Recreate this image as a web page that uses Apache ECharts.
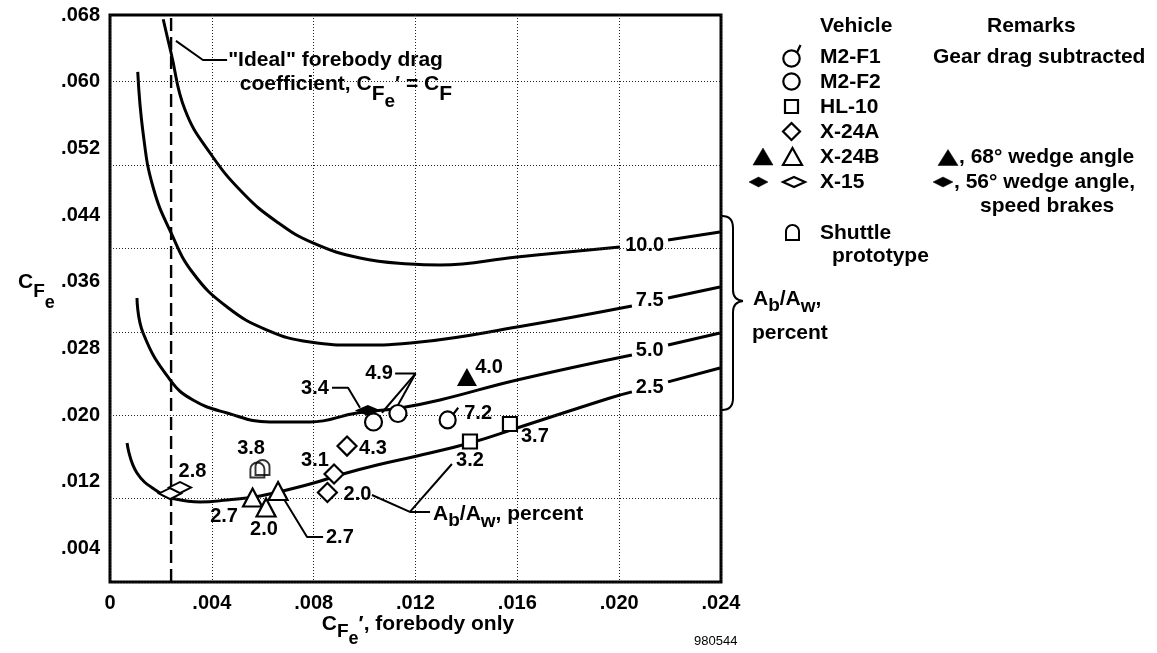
<!DOCTYPE html>
<html><head><meta charset="utf-8">
<script src="https://cdn.jsdelivr.net/npm/echarts@6/dist/echarts.min.js"></script>
<style>html,body{margin:0;padding:0;background:#fff}#c{width:1157px;height:653px}</style>
</head><body><div id="c"></div>
<script>
const FONT = '"Liberation Sans", Arial, Helvetica, "DejaVu Sans", sans-serif';

// ---- axes ----
const xMin = 0, xMax = 0.024, xStep = 0.004;
const yMin = 0, yMax = 0.068, yStep = 0.004;
const yTickLabels = [0.004, 0.012, 0.020, 0.028, 0.036, 0.044, 0.052, 0.060, 0.068];

// ---- Ab/Aw contour curves (null = gap where the curve label sits) ----
const curve10 = [[.00209,.06749],[.0024,.06344],[.00295,.05661],[.00393,.05145],[.00522,.04665],[.00656,.04318],[.00797,.04066],[.00982,.03886],[.01178,.03814],[.01296,.03802],[.01599,.03898],[.02003,.04018],null,[.02192,.04102],[.02396,.04198]];
const curve75 = [[.00109,.06117],[.0013,.05385],[.00169,.04737],[.0024,.04186],[.00326,.03706],[.0046,.03298],[.00617,.03022],[.00786,.02878],[.0097,.02842],[.01218,.02878],[.01599,.03058],[.0205,.0331],null,[.02192,.03406],[.02396,.03538]];
const curve50 = [[.00106,.03406],[.0013,.02986],[.00236,.02423],[.00326,.02183],[.0046,.02027],[.00628,.01919],[.00786,.01919],[.0097,.02027],[.01139,.02087],[.01296,.02183],[.01599,.02423],[.0205,.02723],null,[.02192,.02842],[.02396,.02986]];
const curve25 = [[.00067,.01667],[.00106,.01307],[.00196,.01067],[.0024,.01007],[.00354,.00959],[.0046,.00983],[.0059,.01031],[.00786,.01175],[.00915,.01295],[.01049,.01403],[.01206,.01511],[.01414,.01667],[.01599,.01847],[.01964,.02207],[.0205,.0228],null,[.02192,.0240],[.02396,.02567]];
const curveNames = ['10.0', '7.5', '5.0', '2.5'];
const curveLabelPos = [[.0210,.0404],[.0212,.0338],[.0212,.0278],[.0212,.0233]];
const idealCF = 0.0024;

// ---- flight data ----
const m2f1 = [[.01326,.01943]];
const m2f2 = [[.01035,.01919],[.01131,.02021]];
const hl10 = [[.01414,.01685],[.01571,.01895]];
const x24a = [[.00931,.0163],[.0088,.01295],[.00854,.01073]];
const x24bOpen = [[.0056,.01013],[.00613,.00894],[.0066,.01091]];
const x24bWedge = [[.01402,.02459]];
const x15Open = [[.00236,.01061],[.00275,.01133]];
const x15Brakes = [[.01013,.02057]];
const shuttle = [[.00579,.01343],[.00599,.01373]];

// Ab/Aw percent labels next to points
const pointLabels = [
  [.00324,.0132,'2.8'],[.00554,.0160,'3.8'],[.00448,.00786,'2.7'],[.00605,.0063,'2.0'],
  [.00903,.00534,'2.7'],[.00805,.01463,'3.1'],[.01033,.0160,'4.3'],[.00972,.01049,'2.0'],
  [.00805,.0232,'3.4'],[.01057,.0250,'4.9'],[.01446,.0202,'7.2'],[.01489,.0257,'4.0'],
  [.01414,.01457,'3.2'],[.01669,.01745,'3.7']
];
// leader lines
const leaders = [
  [[.00259,.0649],[.00365,.0626],[.0046,.0626]],
  [[.00872,.0233],[.00935,.0233],[.00982,.0209]],
  [[.0112,.0250],[.0120,.0250],[.01068,.0203]],
  [[.0120,.0250],[.01127,.0210]],
  [[.0068,.0101],[.00774,.0054],[.00837,.0054]],
  [[.01029,.01043],[.01178,.0084],[.01257,.0084]],
  [[.01178,.0084],[.01343,.01415]]
];

const fmt = v => (Math.abs(v) < 1e-9 ? '0' : v.toFixed(3).replace(/^0/, ''));

function splitSegments(arr) {
  const segs = [[]];
  arr.forEach(p => { if (p === null) segs.push([]); else segs[segs.length - 1].push(p); });
  return segs.filter(s => s.length);
}

const series = [];
// dashed ideal line + horizontal grid lines
series.push({
  type: 'line', data: [[idealCF, yMin], [idealCF, yMax]], symbol: 'none', silent: true, z: 2,
  lineStyle: { color: '#000', width: 2.4, type: [13, 6] },
  markLine: {
    silent: true, symbol: 'none', label: { show: false }, animation: false,
    lineStyle: { color: '#222', width: 1, type: [1, 2] },
    data: yTickLabels.filter(v => v < yMax - 1e-9).map(v => ({ yAxis: v }))
  }
});
[curve10, curve75, curve50, curve25].forEach(c => {
  splitSegments(c).forEach(seg => series.push({
    type: 'line', data: seg, smooth: 0.45, symbol: 'none', silent: true, z: 3,
    lineStyle: { color: '#000', width: 3 }
  }));
});
leaders.forEach(l => series.push({
  type: 'line', data: l, symbol: 'none', silent: true, z: 3,
  lineStyle: { color: '#000', width: 2 }
}));

function pts(data, symbol, size, filled, extra) {
  return Object.assign({
    type: 'scatter', data, symbol, symbolSize: size, silent: true, z: 6,
    itemStyle: { color: filled ? '#000' : '#fff', borderColor: '#000', borderWidth: filled ? 0 : 2.2, opacity: 1 }
  }, extra || {});
}
const M2F1_PATH = 'path://M0.5,12.5A8,8,0,1,1,16.5,12.5A8,8,0,1,1,0.5,12.5ZM14.2,6.8L19,1';
const DOME_PATH = 'path://M0,15L0,6.5A6.5,6.5,0,0,1,13,6.5L13,15Z';
series.push(pts(m2f1, M2F1_PATH, [19.6, 20.7], false, { symbolKeepAspect: true, symbolOffset: [1.33, -1.86] }));
series.push(pts(m2f2, 'circle', 17, false));
series.push(pts(hl10, 'rect', 14, false));
series.push(pts(x24a, 'diamond', [19, 19], false));
series.push(pts(x24bOpen, 'triangle', [19, 18], false));
series.push(pts(x24bWedge, 'triangle', [20, 18], true));
series.push(pts(x15Open, 'diamond', [22, 11], false));
series.push(pts(x15Brakes, 'diamond', [26, 11], true));
series.push(pts(shuttle, DOME_PATH, [14, 15], false, { itemStyle: { color: 'rgba(255,255,255,0)', borderColor: '#000', borderWidth: 2 } }));

const labelStyle = {
  show: true, position: [0.5, 0.5], align: 'center', verticalAlign: 'middle',
  color: '#000', opacity: 1, textBorderWidth: 0, textShadowBlur: 0,
  fontSize: 20, fontWeight: 'bold', fontFamily: FONT, formatter: '{b}'
};
series.push({
  type: 'scatter', silent: true, z: 7, symbolSize: 1, itemStyle: { color: 'rgba(0,0,0,0)' },
  data: pointLabels.map(p => ({ value: [p[0], p[1]], name: p[2] })), label: labelStyle
});
series.push({
  type: 'scatter', silent: true, z: 7, symbolSize: 1, itemStyle: { color: 'rgba(0,0,0,0)' },
  data: curveLabelPos.map((p, i) => ({ value: p, name: curveNames[i] })), label: labelStyle
});

const option = {
  animation: false,
  backgroundColor: '#fff',
  grid: { left: 110, top: 15, width: 611, height: 567, show: true, borderColor: '#000', borderWidth: 3, backgroundColor: 'rgba(0,0,0,0)' },
  xAxis: {
    type: 'value', min: xMin, max: xMax, interval: xStep,
    axisLine: { show: false }, axisTick: { show: false },
    axisLabel: { margin: 11, color: '#000', fontSize: 20, fontWeight: 'bold', fontFamily: FONT, formatter: fmt },
    splitLine: { show: true, lineStyle: { color: '#222', width: 1, type: [1, 2] } }
  },
  yAxis: {
    type: 'value', min: yMin, max: yMax, interval: yStep,
    axisLine: { show: false }, axisTick: { show: false },
    axisLabel: {
      margin: 10, color: '#000', fontSize: 20, fontWeight: 'bold', fontFamily: FONT,
      formatter: v => (yTickLabels.some(t => Math.abs(t - v) < 1e-7) ? fmt(v) : '')
    },
    splitLine: { show: false }
  },
  series
};

const chart = echarts.init(document.getElementById('c'));
chart.setOption(option);

// ---- annotations, titles, legend ----
const mctx = document.createElement('canvas').getContext('2d');
function measure(t, size) { mctx.font = 'bold ' + size + 'px ' + FONT; return mctx.measureText(t).width; }
const G = [];
function txt(x, y, s, size, align) {
  G.push({ type: 'text', x, y, silent: true, z: 10, style: { text: s, fontSize: size || 21, fontWeight: 'bold', fontFamily: FONT, fill: '#000', align: align || 'left', verticalAlign: 'middle' } });
}
function parts(x, y, list, center) {
  const total = list.reduce((s, p) => s + measure(p[0], p[1]), 0);
  let cx = center ? x - total / 2 : x;
  list.forEach(p => { txt(cx, y + (p[2] || 0), p[0], p[1]); cx += measure(p[0], p[1]); });
}
const toPx = p => chart.convertToPixel({ gridIndex: 0 }, p);

// in-plot annotation texts
let p = toPx([.00464, .0626]); txt(p[0], p[1], '"Ideal" forebody drag', 21);
p = toPx([.0051, .0597]);
parts(p[0], p[1], [['coefficient, C', 21, 0], ['F', 21, 10], ['e', 19, 18], ['\u2032 = C', 21, 0], ['F', 21, 10]]);
p = toPx([.01269, .00816]);
parts(p[0], p[1], [['A', 21, 0], ['b', 19, 7], ['/A', 21, 0], ['w', 19, 8], [', percent', 21, 0]]);

// axis titles
parts(18, 282, [['C', 21, 0], ['F', 19, 10], ['e', 18, 21]]);
parts(418, 624, [['C', 21, 0], ['F', 19, 8], ['e', 18, 15], ['\u2032, forebody only', 21, 0]], true);
G.push({ type: 'text', x: 694, y: 641, silent: true, style: { text: '980544', fontSize: 13, fontFamily: '"Liberation Sans Narrow", "Liberation Sans", Arial, sans-serif', fill: '#000', align: 'left', verticalAlign: 'middle' } });

// brace
const bS = { stroke: '#000', lineWidth: 2, fill: null };
G.push({ type: 'bezierCurve', silent: true, shape: { x1: 722, y1: 216, cpx1: 733, cpy1: 216, x2: 733, y2: 228 }, style: bS });
G.push({ type: 'line', silent: true, shape: { x1: 733, y1: 228, x2: 733, y2: 290 }, style: bS });
G.push({ type: 'bezierCurve', silent: true, shape: { x1: 733, y1: 290, cpx1: 733, cpy1: 300, x2: 743, y2: 301 }, style: bS });
G.push({ type: 'bezierCurve', silent: true, shape: { x1: 743, y1: 301, cpx1: 733, cpy1: 302, x2: 733, y2: 312 }, style: bS });
G.push({ type: 'line', silent: true, shape: { x1: 733, y1: 312, x2: 733, y2: 398 }, style: bS });
G.push({ type: 'bezierCurve', silent: true, shape: { x1: 733, y1: 398, cpx1: 733, cpy1: 410, x2: 722, y2: 410 }, style: bS });
parts(753, 299, [['A', 21, 0], ['b', 19, 7], ['/A', 21, 0], ['w', 19, 8], [',', 21, 0]]);
txt(752, 333, 'percent', 21);

// legend symbols
const open = { fill: '#fff', stroke: '#000', lineWidth: 2.2 };
const solid = { fill: '#000', stroke: '#000', lineWidth: 0.5 };
function circle(cx, cy, r) { G.push({ type: 'circle', silent: true, shape: { cx, cy, r }, style: open }); }
function tri(cx, cy, w, h, st) { G.push({ type: 'polygon', silent: true, shape: { points: [[cx, cy - h / 2], [cx + w / 2, cy + h / 2], [cx - w / 2, cy + h / 2]] }, style: st }); }
function dia(cx, cy, w, h, st) { G.push({ type: 'polygon', silent: true, shape: { points: [[cx, cy - h / 2], [cx + w / 2, cy], [cx, cy + h / 2], [cx - w / 2, cy]] }, style: st }); }
function sq(cx, cy, s) { G.push({ type: 'rect', silent: true, shape: { x: cx - s / 2, y: cy - s / 2, width: s, height: s }, style: open }); }
function dome(cx, cy, w, h) {
  const r = w / 2, pts = [[cx - r, cy + h / 2]];
  const top = cy - h / 2 + r;
  for (let i = 0; i <= 16; i++) { const a = Math.PI - Math.PI * i / 16; pts.push([cx + r * Math.cos(a), top - r * Math.sin(a)]); }
  pts.push([cx + r, cy + h / 2]);
  G.push({ type: 'polygon', silent: true, shape: { points: pts }, style: { fill: '#fff', stroke: '#000', lineWidth: 2 } });
}
circle(791.5, 58.5, 8.2);
G.push({ type: 'line', silent: true, shape: { x1: 797, y1: 52.5, x2: 800.5, y2: 45 }, style: { stroke: '#000', lineWidth: 2.2 } });
circle(791.5, 81.5, 8.2);
sq(791.5, 106.5, 13);
dia(791.5, 131.5, 17, 17, open);
tri(763, 156.5, 20, 17, solid);
tri(792.5, 156.5, 19, 17, open);
dia(758.5, 182, 19, 10, solid);
dia(794, 182, 22, 10, open);
dome(792.5, 232.5, 13, 15);
tri(948, 157.5, 20, 16, solid);
dia(943, 182, 20, 10, solid);

// legend texts
txt(820, 26, 'Vehicle'); txt(987, 26, 'Remarks');
txt(820, 57.5, 'M2-F1'); txt(933, 57.5, 'Gear drag subtracted');
txt(820, 82, 'M2-F2');
txt(820, 107, 'HL-10');
txt(820, 132, 'X-24A');
txt(820, 157, 'X-24B'); txt(959, 157, ', 68\u00B0 wedge angle');
txt(820, 182, 'X-15'); txt(954, 182, ', 56\u00B0 wedge angle,');
txt(980, 206, 'speed brakes');
txt(820, 233, 'Shuttle');
txt(832, 256, 'prototype');

chart.setOption({ graphic: { elements: G } });
</script>
</body></html>
